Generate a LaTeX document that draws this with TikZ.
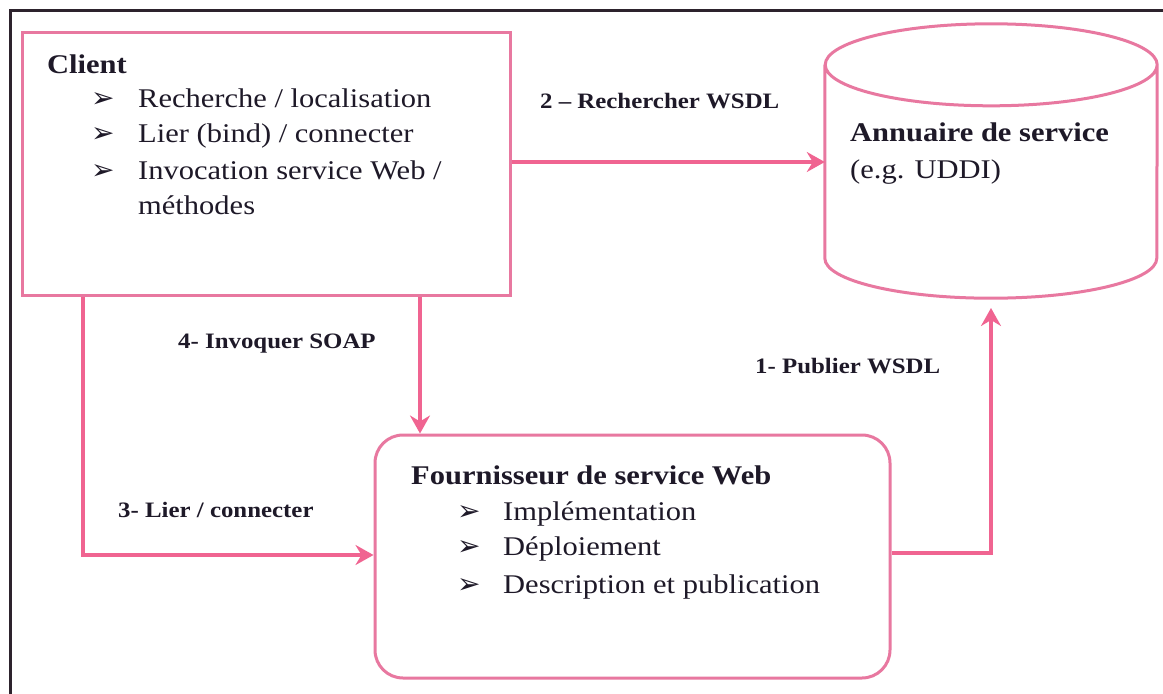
\documentclass[tikz,border=0pt]{standalone}
\usepackage{fontspec}
\setmainfont[FakeStretch=1.13]{Liberation Serif}
\newfontfamily\symfont{DejaVu Sans}
\usetikzlibrary{arrows.meta}
\definecolor{linkpink}{RGB}{240,100,145}
\definecolor{boxpink}{RGB}{232,120,160}
\definecolor{frameink}{RGB}{45,35,45}
\definecolor{inkdark}{RGB}{30,25,40}
\newcommand{\tip}{{\symfont\fontsize{28}{28}\selectfont ➢}}
\begin{document}
\begin{tikzpicture}[x=1pt,y=-1pt,
  boxline/.style={draw=boxpink,line width=3pt},
  link/.style={draw=linkpink,line width=4pt,-{Stealth[length=18pt,width=20pt,inset=6pt]}},
  bodytext/.style={anchor=base west,inner sep=0pt,text=inkdark,font=\fontsize{27}{27}\selectfont},
  titletext/.style={bodytext,font=\fontsize{27}{27}\selectfont\bfseries},
  linklabel/.style={anchor=base west,inner sep=0pt,text=inkdark,font=\fontsize{22}{22}\selectfont\bfseries},
  bullet/.style={anchor=base west,inner sep=0pt,text=inkdark}]
\useasboundingbox (0,0) rectangle (1163,694);
\fill[white] (0,0) rectangle (1163,694);
% page frame (top and left edges)
\draw[frameink,line width=3pt] (10,694) -- (10,10) -- (1163,10);

% client box
\node[boxline,rectangle,minimum width=488pt,minimum height=263pt] (client) at (266,163.5) {};
\node[titletext] (clientT) at (47,73) {Client};
\node[bullet] (cb1) at (91,107) {\tip};
\node[bodytext] (c1) at (138,107) {Recherche / localisation};
\node[bullet] (cb2) at (91,142) {\tip};
\node[bodytext] (c2) at (138,142) {Lier (bind) / connecter};
\node[bullet] (cb3) at (91,179) {\tip};
\node[bodytext] (c3) at (138,179) {Invocation service Web /};
\node[bodytext] (c4) at (138,214) {méthodes};

% service directory (cylinder)
\node[inner sep=0pt,minimum width=332pt,minimum height=193pt] (ann) at (991,161.5) {};
\draw[boxline] (ann.north west) -- (ann.south west)
  arc[start angle=180,end angle=360,x radius=166pt,y radius=40pt]
  -- (ann.north east)
  arc[start angle=0,end angle=360,x radius=166pt,y radius=41pt];
\coordinate (annbase) at (991,308);
\node[titletext] (annT) at (850,141) {Annuaire de service};
\node[bodytext] (annS) at (850,178) {(e.g. UDDI)};

% web service provider box
\node[boxline,rectangle,rounded corners=28pt,minimum width=515pt,minimum height=243pt] (prov) at (632.5,556.5) {};
\node[titletext] (provT) at (411,484) {Fournisseur de service Web};
\node[bullet] (pb1) at (457,520) {\tip};
\node[bodytext] (p1) at (503,520) {Implémentation};
\node[bullet] (pb2) at (457,555) {\tip};
\node[bodytext] (p2) at (503,555) {Déploiement};
\node[bullet] (pb3) at (457,593) {\tip};
\node[bodytext] (p3) at (503,593) {Description et publication};

% connectors
\draw[link] (client.east |- 0,162) -- (ann.west |- 0,162);
\draw[link] (client.south -| 420,0) -- (prov.north -| 420,0);
\draw[link] (client.south -| 83,0) |- (prov.west |- 0,555);
\draw[link] (prov.east |- 0,553) -| (annbase);

% connector labels
\node[linklabel] (l2) at (540,108) {2 – Rechercher WSDL};
\node[linklabel] (l4) at (178,348) {4- Invoquer SOAP};
\node[linklabel] (l3) at (118,517) {3- Lier / connecter};
\node[linklabel] (l1) at (755,373) {1- Publier WSDL};
\end{tikzpicture}
\end{document}
